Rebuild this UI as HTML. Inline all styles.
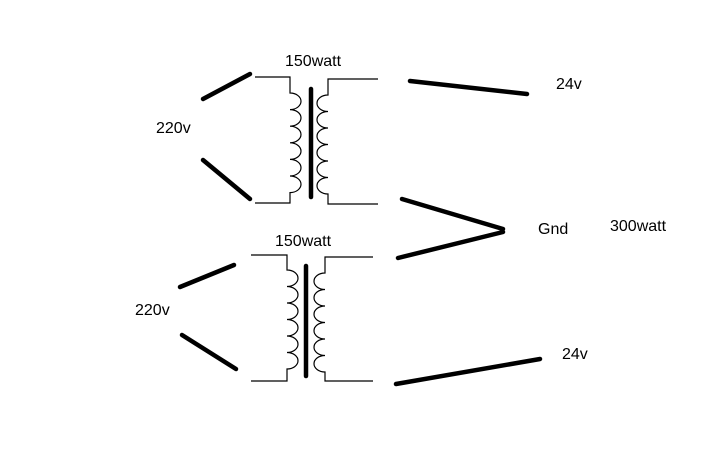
<!DOCTYPE html>
<html><head><style>body{margin:0;background:#fff}svg{display:block}text{font-family:"Liberation Sans",sans-serif;font-size:16px;fill:#000}</style></head>
<body>
<svg width="725" height="463" viewBox="0 0 725 463" xmlns="http://www.w3.org/2000/svg">
<g fill="none" stroke="#000" stroke-width="1.2">
<path d="M255,77 H290 V93 a11,8.3 0 0 1 0,16.6 a11,8.3 0 0 1 0,16.6 a11,8.3 0 0 1 0,16.6 a11,8.3 0 0 1 0,16.6 a11,8.3 0 0 1 0,16.6 a11,8.3 0 0 1 0,16.6 V203 H255"/>
<path d="M378,79 H328 V95 a11,8.25 0 0 0 0,16.5 a11,8.25 0 0 0 0,16.5 a11,8.25 0 0 0 0,16.5 a11,8.25 0 0 0 0,16.5 a11,8.25 0 0 0 0,16.5 a11,8.25 0 0 0 0,16.5 V204 H378"/>
<path d="M251,255 H287 V270 a11,8.25 0 0 1 0,16.5 a11,8.25 0 0 1 0,16.5 a11,8.25 0 0 1 0,16.5 a11,8.25 0 0 1 0,16.5 a11,8.25 0 0 1 0,16.5 a11,8.25 0 0 1 0,16.5 V381 H251"/>
<path d="M373,257 H325 V273 a11,8.25 0 0 0 0,16.5 a11,8.25 0 0 0 0,16.5 a11,8.25 0 0 0 0,16.5 a11,8.25 0 0 0 0,16.5 a11,8.25 0 0 0 0,16.5 a11,8.25 0 0 0 0,16.5 V381 H373"/>
</g>
<g stroke="#000" stroke-width="4.5" stroke-linecap="round">
<line x1="311" y1="89" x2="311" y2="197"/>
<line x1="306" y1="266" x2="306" y2="376"/>
<line x1="203" y1="99" x2="250" y2="74"/>
<line x1="203" y1="160" x2="250" y2="199"/>
<line x1="180" y1="287" x2="234" y2="265"/>
<line x1="182" y1="335" x2="236" y2="369"/>
<line x1="410" y1="81" x2="527" y2="94"/>
<line x1="402" y1="199" x2="503" y2="229"/>
<line x1="398" y1="258" x2="503" y2="232"/>
<line x1="396" y1="384" x2="540" y2="359"/>
</g>
<text x="285" y="66">150watt</text>
<text x="156" y="133">220v</text>
<text x="556" y="89">24v</text>
<text x="538" y="234">Gnd</text>
<text x="610" y="231">300watt</text>
<text x="275" y="246">150watt</text>
<text x="135" y="315">220v</text>
<text x="562" y="359">24v</text>
</svg>
</body></html>
